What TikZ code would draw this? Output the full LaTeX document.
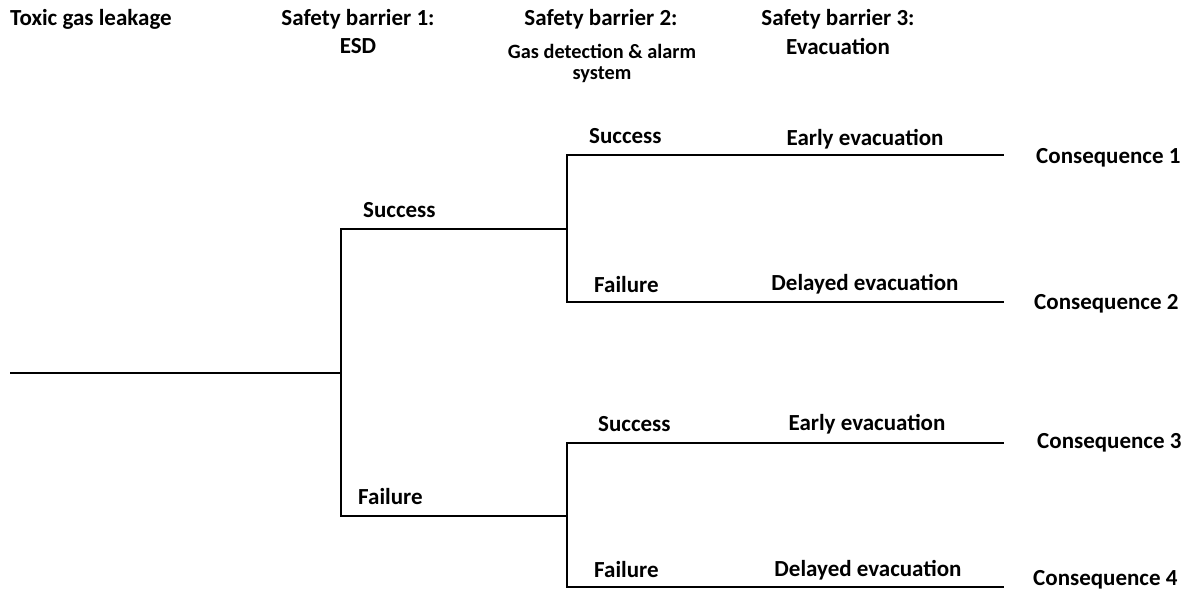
\documentclass[tikz,border=0pt]{standalone}
\usepackage{fontspec}
\setmainfont{Carlito}
\begin{document}
\begin{tikzpicture}[x=1pt,y=-1pt,
  lbl/.style={font=\bfseries\fontsize{23}{27}\selectfont, inner sep=0pt},
  sub/.style={font=\bfseries\fontsize{20.3}{24}\selectfont, inner sep=0pt},
  branch/.style={line width=1.6pt, line cap=rect}]
\useasboundingbox (0,0) rectangle (1189,592);
% tree points
\coordinate (start) at (11,373);
\coordinate (b1) at (341,373);
\coordinate (b1s) at (341,229);
\coordinate (b1f) at (341,516);
\coordinate (b2u) at (567,229);
\coordinate (b2us) at (567,155);
\coordinate (b2uf) at (567,302);
\coordinate (b2l) at (567,516);
\coordinate (b2ls) at (567,443);
\coordinate (b2lf) at (567,587);
\coordinate (e1) at (1003,155);
\coordinate (e2) at (1003,302);
\coordinate (e3) at (1003,443);
\coordinate (e4) at (1003,587);
% connectors
\draw[branch] (start) -- (b1);
\draw[branch] (b1s) -- (b1f);
\draw[branch] (b1s) -- (b2u);
\draw[branch] (b1f) -- (b2l);
\draw[branch] (b2us) -- (b2uf);
\draw[branch] (b2ls) -- (b2lf);
\draw[branch] (b2us) -- (e1);
\draw[branch] (b2uf) -- (e2);
\draw[branch] (b2ls) -- (e3);
\draw[branch] (b2lf) -- (e4);
% headers
\node[lbl, anchor=west] (h0) at (10,19) {Toxic gas leakage};
\node[lbl] (h1) at (358,19) {Safety barrier 1:};
\node[lbl] (h1b) at (358,46) {ESD};
\node[lbl] (h2) at (601,19) {Safety barrier 2:};
\node[sub] (h2b) at (602,51) {Gas detection \& alarm};
\node[sub] (h2c) at (602,75) {system};
\node[lbl] (h3) at (838,19) {Safety barrier 3:};
\node[lbl] (h3b) at (838,46) {Evacuation};
% branch labels
\node[lbl, anchor=west] (s1) at (363,210) {Success};
\node[lbl, anchor=west] (f1) at (358,497) {Failure};
\node[lbl, anchor=west] (s2) at (589,136) {Success};
\node[lbl, anchor=west] (f2) at (594,285) {Failure};
\node[lbl, anchor=west] (s3) at (598,424) {Success};
\node[lbl, anchor=west] (f3) at (594,570) {Failure};
\node[lbl] (ev1) at (865,139) {Early evacuation};
\node[lbl] (ev2) at (865,284) {Delayed evacuation};
\node[lbl] (ev3) at (867,424) {Early evacuation};
\node[lbl] (ev4) at (868,570) {Delayed evacuation};
% consequences
\node[lbl, anchor=west] (c1) at (1036,158) {Consequence 1};
\node[lbl, anchor=west] (c2) at (1034,304) {Consequence 2};
\node[lbl, anchor=west] (c3) at (1037,443) {Consequence 3};
\node[lbl, anchor=west] (c4) at (1033,580) {Consequence 4};
\end{tikzpicture}
\end{document}
